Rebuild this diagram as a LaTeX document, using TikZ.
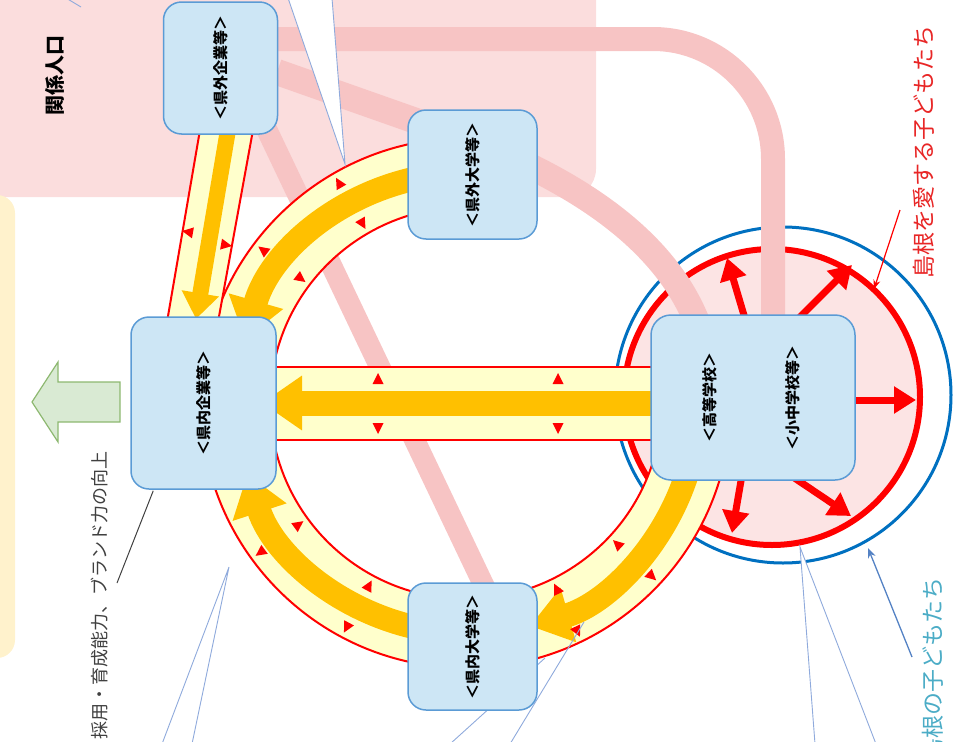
\documentclass[tikz,border=0pt]{standalone}
\usepackage{fontspec}
\newfontfamily\jp{Noto Sans CJK JP}
\usetikzlibrary{arrows.meta,calc}
\definecolor{pinkreg}{RGB}{251,221,221}
\definecolor{yellowreg}{RGB}{255,242,204}
\definecolor{pinkband}{RGB}{247,196,196}
\definecolor{circfill}{RGB}{252,228,228}
\definecolor{boxfill}{RGB}{205,230,245}
\definecolor{boxline}{RGB}{91,155,213}
\definecolor{ringfill}{RGB}{255,255,204}
\definecolor{orangec}{RGB}{255,192,0}
\definecolor{ringred}{RGB}{255,0,0}
\definecolor{bluec}{RGB}{0,112,192}
\definecolor{leader}{RGB}{143,170,220}
\definecolor{pointblue}{RGB}{84,130,196}
\definecolor{greenfill}{RGB}{217,234,211}
\definecolor{greenline}{RGB}{141,184,112}
\definecolor{redtext}{RGB}{232,38,38}
\definecolor{cyantext}{RGB}{75,172,198}
\definecolor{graytext}{RGB}{64,64,64}
\newcommand\rtri[2]{\fill[ringred, shift={#1}, rotate=#2] (6,0) -- (-5,5.5) -- (-5,-5.5) -- cycle;}
\begin{document}
\begin{tikzpicture}[x=1pt,y=-1pt,
  box/.style={draw=boxline, line width=1.5pt, fill=boxfill, rounded corners=18pt, inner sep=0pt},
  lbl/.style={rotate=90, font=\jp\bfseries\fontsize{15}{18}\selectfont, text=black},
  pband/.style={draw=pinkband, line width=24pt},
  ringline/.style={draw=ringred, line width=2pt},
  oarrow/.style={draw=orangec, line width=24pt, -{Triangle[width=54pt,length=40pt]}},
  radarrow/.style={draw=ringred, line width=7pt, -{Triangle[width=26pt,length=22pt]}},
  callout/.style={draw=leader, line width=0.9pt, fill=white},
  leaderline/.style={draw=leader, line width=0.9pt}]
\useasboundingbox (0,0) rectangle (954,742);
\clip (0,0) rectangle (954,742);
% background regions
\fill[pinkreg, rounded corners=28pt] (-40,-40) rectangle (596,197);
\fill[yellowreg, rounded corners=18pt] (-40,195) rectangle (15,658);
% green arrow
\draw[greenline, fill=greenfill, line width=1.2pt] (32,402) -- (58,362) -- (58,382) -- (120,382) -- (120,422) -- (58,422) -- (58,442) -- cycle;
% circles around school
\draw[bluec, line width=3pt] (783,395) circle[radius=168];
\draw[ringred, fill=circfill, line width=6pt] (772,397) circle[radius=148];
% pink bands
\draw[pband, rounded corners=120pt] (270,39) -- (773,39) -- (773,320);
\draw[pband, line width=26pt] (277,72) -- (470,140) .. controls (585,185) and (670,245) .. (700,330);
\draw[pband, line width=21pt] (266,128) -- (487,592);
% ring
\begin{scope}[shift={(466,403)}]
  \fill[ringfill] (-85:265) arc[start angle=-85, end angle=-350, radius=265] -- (-350:196) arc[start angle=-350, end angle=-85, radius=196] -- cycle;
  \draw[ringline] (-85:265) arc[start angle=-85, end angle=-350, radius=265];
  \draw[ringline] (-85:196) arc[start angle=-85, end angle=-350, radius=196];
  \draw[oarrow] (-93:230) arc[start angle=-93, end angle=-164, radius=230];
  \draw[oarrow] (-262:230) arc[start angle=-262, end angle=-198, radius=230];
  \draw[oarrow] (-345:232) arc[start angle=-345, end angle=-286, radius=232];
  \rtri{(-120:254)}{120} \rtri{(-143:254)}{143}
  \rtri{(-120:207)}{300} \rtri{(-143:207)}{323}
  \rtri{(-216:254)}{216} \rtri{(-242:254)}{242}
  \rtri{(-216:207)}{36}  \rtri{(-242:207)}{62}
  \rtri{(-296:254)}{296} \rtri{(-317:254)}{317}
  \rtri{(-296:207)}{116} \rtri{(-317:207)}{137}
\end{scope}
% straight band between prefecture-outside companies and inside companies
\fill[ringfill] (200,130) -- (253,130) -- (218,322) -- (167,322) -- cycle;
\draw[ringline] (200,130) -- (167,322);
\draw[ringline] (253,130) -- (218,322);
\draw[draw=orangec, line width=16pt, -{Triangle[width=36pt,length=26pt]}] (228,130) -- (196,319);
\rtri{(188,232)}{170}
\rtri{(226,245)}{-10}
% horizontal band
\fill[ringfill] (270,367) rectangle (655,440);
\draw[ringline] (270,367) -- (655,367);
\draw[ringline] (270,440) -- (655,440);
\draw[oarrow, -{Triangle[width=52pt,length=40pt]}, line width=25pt] (655,403) -- (262,403);
\rtri{(378,379)}{90} \rtri{(378,428)}{270}
\rtri{(558,379)}{90} \rtri{(558,428)}{270}
% radiating arrows
\coordinate (s1) at (746,322); \coordinate (t1) at (727,258);
\coordinate (s2) at (795,322); \coordinate (t2) at (852,265);
\coordinate (s3) at (850,400); \coordinate (t3) at (916,400);
\coordinate (s4) at (742,475); \coordinate (t4) at (732,533);
\coordinate (s5) at (790,475); \coordinate (t5) at (851,516);
\draw[radarrow] (s1) -- (t1);
\draw[radarrow] (s2) -- (t2);
\draw[radarrow] (s3) -- (t3);
\draw[radarrow] (s4) -- (t4);
\draw[radarrow] (s5) -- (t5);
% callouts
\draw[callout] (288,-2) -- (345,164) -- (332,-2);
\draw[callout] (162,744) -- (229,567) -- (192,744);
\draw[callout] (815,744) -- (800,547) -- (876,744);
\draw[leaderline] (450,744) -- (545,658);
\draw[leaderline] (510,744) -- (584,622);
\draw[leaderline] (66,-2) -- (81,7);
% boxes
\node[box, minimum width=114pt, minimum height=132pt] (gk) at (220.5,68) {};
\node[box, minimum width=129pt, minimum height=129pt] (gd) at (472.5,174.5) {};
\node[box, minimum width=145pt, minimum height=172pt] (nk) at (203.5,403) {};
\node[box, minimum width=129pt, minimum height=127pt] (nd) at (472.5,646.5) {};
\node[box, minimum width=204pt, minimum height=165pt, rounded corners=20pt] (kk) at (753,397.5) {};
\node[lbl] (gkl) at (gk) {＜県外企業等＞};
\node[lbl] (gdl) at (gd) {＜県外大学等＞};
\node[lbl] (nkl) at (nk) {＜県内企業等＞};
\node[lbl] (ndl) at (nd) {＜県内大学等＞};
\node[lbl] (kkl1) at (710,397) {＜高等学校＞};
\node[lbl] (kkl2) at (793,398) {＜小中学校等＞};
% texts
\node[rotate=90, font=\jp\bfseries\fontsize{20}{24}\selectfont] (kankei) at (55,75) {関係人口};
\node[rotate=90, text=redtext, font=\jp\fontsize{23}{26}\selectfont] (aisu) at (924,152) {島根を愛する子どもたち};
\node[rotate=90, text=cyantext, font=\jp\fontsize{23}{26}\selectfont] (kodomo) at (933,669) {島根の子どもたち};
\node[rotate=90, text=graytext, font=\jp\fontsize{18}{20}\selectfont] (saiyo) at (100,595) {採用・育成能力、ブランド力の向上};
% pointers
\coordinate (p1) at (117,583);
\coordinate (p1e) at ($(nk.south west)+(23,1)$);
\draw[graytext, line width=1pt] (p1) -- (p1e);
\coordinate (p2) at (900,210); \coordinate (p2e) at (874,289);
\draw[ringred, line width=1.2pt, -{Stealth[length=9pt,width=7pt]}] (p2) -- (p2e);
\coordinate (p3) at (912,657); \coordinate (p3e) at (868,548);
\draw[pointblue, line width=1.3pt, -{Stealth[length=10pt,width=8pt]}] (p3) -- (p3e);
\end{tikzpicture}
\end{document}
